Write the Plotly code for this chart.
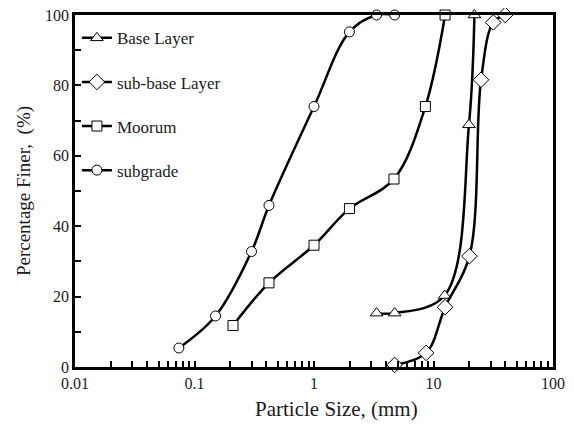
import plotly.graph_objects as go

# Data (particle size in mm, percent finer)
base_size = [3.34, 4.73, 12.4, 19.8, 22.0]
base_pct = [15.3, 15.3, 20.3, 68.8, 100.0]

subbase_size = [4.73, 8.67, 12.5, 20.0, 25.0, 31.6, 39.8]
subbase_pct = [0.6, 4.0, 17.0, 31.5, 81.6, 97.9, 100.0]

moorum_size = [0.21, 0.42, 1.0, 1.98, 4.67, 8.55, 12.5]
moorum_pct = [11.8, 23.9, 34.6, 45.0, 53.4, 74.0, 100.0]

subgrade_size = [0.074, 0.15, 0.30, 0.42, 1.0, 1.98, 3.34, 4.73]
subgrade_pct = [5.4, 14.5, 32.8, 45.9, 74.0, 95.2, 100.0, 100.0]

x_tickvals = [0.01, 0.1, 1, 10, 100]
x_ticktext = ["0.01", "0.1", "1", "10", "100"]
y_tickvals = [0, 20, 40, 60, 80, 100]

FONT = "Liberation Serif, Times New Roman, serif"
TXT = "#1a1a1a"

series = [
    ("Base Layer", base_size, base_pct, "triangle-up", 11),
    ("sub-base Layer", subbase_size, subbase_pct, "diamond", 12),
    ("Moorum", moorum_size, moorum_pct, "square", 10),
    ("subgrade", subgrade_size, subgrade_pct, "circle", 10),
]

fig = go.Figure()
for i, (name, xs, ys, sym, sz) in enumerate(series):
    fig.add_trace(go.Scatter(
        x=xs, y=ys, name=name, mode="lines+markers",
        legendgroup=f"g{i}",
        line=dict(color="black", width=2.5, shape="spline", smoothing=1.0),
        marker=dict(symbol=sym, size=sz, color="white",
                    line=dict(color="black", width=1)),
        cliponaxis=False,
    ))

# page body has an 8px margin, so the figure is sized to fit the window
fig.update_layout(
    width=558, height=418,
    margin=dict(l=67, r=13, t=7, b=59, autoexpand=False),
    paper_bgcolor="white", plot_bgcolor="white",
    font=dict(family=FONT, size=16, color=TXT),
    showlegend=True,
    legend=dict(
        x=0.004, y=0.985, xanchor="left", yanchor="top",
        bgcolor="rgba(0,0,0,0)", borderwidth=0,
        font=dict(family=FONT, size=17, color=TXT),
        traceorder="grouped", tracegroupgap=19, itemwidth=30,
    ),
    annotations=[dict(
        text="Particle Size, (mm)", xref="paper", yref="paper",
        x=(336 - 75) / 478, y=-0.12, xanchor="center", yanchor="middle",
        showarrow=False, font=dict(family=FONT, size=21, color=TXT),
    )],
)

fig.update_xaxes(
    type="log", range=[-2, 2], automargin=False,
    tickvals=x_tickvals, ticktext=x_ticktext,
    ticklabeloverflow="allow",
    ticks="inside", ticklen=6, tickwidth=2, tickcolor="black",
    minor=dict(ticks="inside", ticklen=6, tickwidth=2, tickcolor="black",
               dtick="D1", showgrid=False),
    showline=True, linecolor="black", linewidth=2.5, mirror=True,
    showgrid=False, zeroline=False,
    tickfont=dict(family=FONT, size=16, color=TXT),
)
fig.update_yaxes(
    range=[0, 100], automargin=False,
    tickvals=y_tickvals,
    ticksuffix="\u00a0",
    ticklabeloverflow="allow",
    ticks="inside", ticklen=6, tickwidth=2, tickcolor="black",
    minor=dict(ticks="inside", ticklen=6, tickwidth=2, tickcolor="black",
               dtick=10, showgrid=False),
    showline=True, linecolor="black", linewidth=2.5, mirror=True,
    showgrid=False, zeroline=False,
    tickfont=dict(family=FONT, size=16, color=TXT),
    title=dict(text="Percentage Finer,  (%)", standoff=10,
               font=dict(family=FONT, size=19, color=TXT)),
)

fig.write_html("out.html")
